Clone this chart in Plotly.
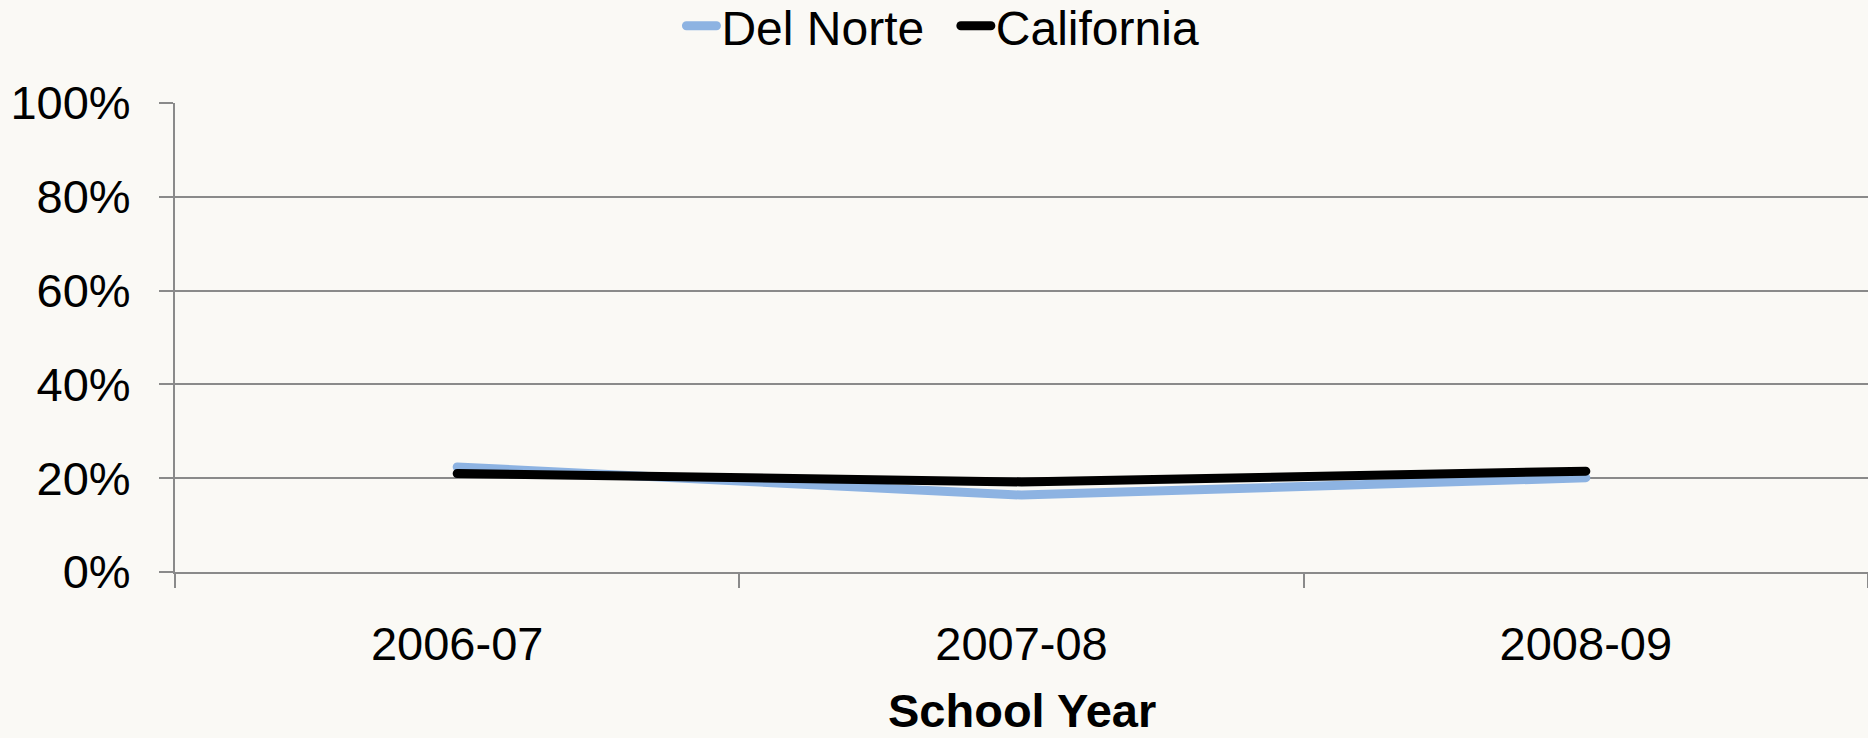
import plotly.graph_objects as go

years = ["2006-07", "2007-08", "2008-09"]
del_norte = [0.224, 0.164, 0.201]
california = [0.210, 0.192, 0.215]
series_names = ["Del Norte", "California"]
x_title = "School Year"
y_ticks = [0, 0.2, 0.4, 0.6, 0.8, 1.0]
y_labels = ["0%", "20%", "40%", "60%", "80%", "100%"]

FONT = "Liberation Sans, Arial, sans-serif"
BG = "#faf9f5"
GRID = "#8a8a8a"
NB = "\u00a0"

fig = go.Figure()
fig.add_trace(go.Scatter(x=years, y=del_norte, name=series_names[0] + NB * 2, mode="lines",
                         line=dict(color="#8db3e2", width=9)))
fig.add_trace(go.Scatter(x=years, y=california, name=series_names[1], mode="lines",
                         line=dict(color="#000000", width=9)))

fig.update_layout(
    width=1868, height=738,
    paper_bgcolor=BG, plot_bgcolor=BG,
    margin=dict(l=175, r=0, t=103, b=166, autoexpand=False),
    font=dict(family=FONT, size=47, color="#000000"),
    showlegend=True,
    legend=dict(orientation="h", x=0.4536, xanchor="center",
                y=1.164, yanchor="middle",
                font=dict(size=48), bgcolor="rgba(0,0,0,0)",
                tracegroupgap=0),
    xaxis=dict(type="category", tickson="boundaries", ticks="outside",
               ticklen=14, tickcolor=GRID, tickwidth=2,
               showline=True, linecolor=GRID, linewidth=2,
               showgrid=False, range=[-0.5, 2.5],
               ticklabelstandoff=30),
    yaxis=dict(range=[0, 1], tickvals=y_ticks, ticktext=y_labels,
               ticks="outside", ticklen=14, tickcolor=GRID, tickwidth=2,
               showline=True, linecolor=GRID, linewidth=2,
               showgrid=True, gridcolor=GRID, gridwidth=2,
               zeroline=False, ticklabelstandoff=19),
    annotations=[dict(text="<b>" + x_title + "</b>", xref="paper", yref="paper",
                      x=0.5, y=-0.296, xanchor="center", yanchor="middle",
                      showarrow=False, font=dict(size=47))],
)

post = """
document.body.style.margin='0';
document.body.style.background='#faf9f5';
document.documentElement.style.overflow='hidden';
document.querySelectorAll('.scatterlayer path.js-line, .legend path.js-line').forEach(function(p){p.style.strokeLinecap='round';p.style.strokeLinejoin='round';});
"""

fig.write_html("out.html", post_script=post, config={"displayModeBar": False})
